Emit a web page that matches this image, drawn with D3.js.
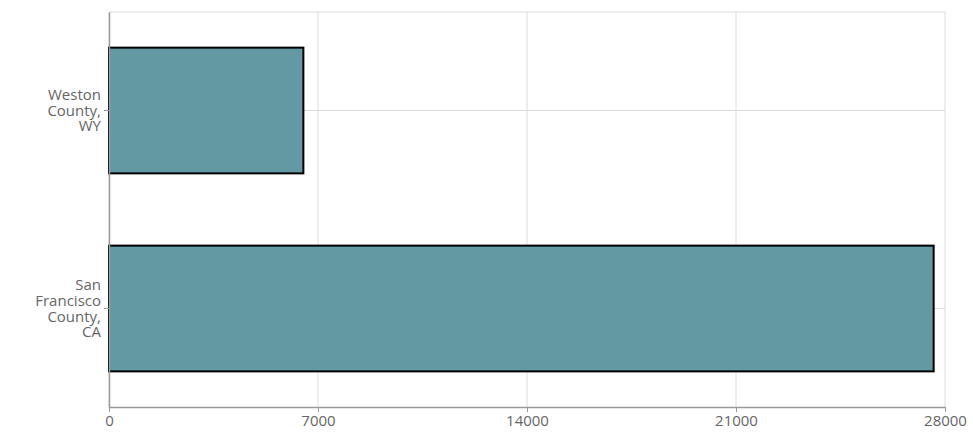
<!DOCTYPE html>
<html><head><meta charset="utf-8">
<script src="https://cdn.jsdelivr.net/npm/d3@7/dist/d3.min.js"></script>
<style>body{margin:0;background:#fff}svg{display:block}</style>
</head><body><svg id="c" width="973" height="445"></svg>
<script>
const categories = ["Weston County, WY", "San Francisco County, CA"];
const values = [6510, 27620];
const xTicks = [0, 7000, 14000, 21000, 28000];

const W = 973, H = 445;
const m = {left: 109, right: 28, top: 12, bottom: 38};
const svg = d3.select("#c");
const font = "'Open Sans', 'Noto Sans', sans-serif";
const x = d3.scaleLinear().domain([0, 28000]).range([m.left, W - m.right]);
const y = d3.scaleBand().domain(categories).range([m.top, H - m.bottom]).paddingInner(0.365).paddingOuter(0.18);

// grid
const g = svg.append("g");
g.selectAll("line.vx").data(xTicks).join("line")
  .attr("x1", d => x(d)).attr("x2", d => x(d)).attr("y1", m.top).attr("y2", H - m.bottom)
  .attr("stroke", "#dcdcdc").attr("stroke-width", 1);
g.selectAll("line.hy").data(categories).join("line")
  .attr("x1", m.left).attr("x2", W - m.right)
  .attr("y1", d => y(d) + y.bandwidth() / 2).attr("y2", d => y(d) + y.bandwidth() / 2)
  .attr("stroke", "#dcdcdc").attr("stroke-width", 1);
g.append("line").attr("x1", m.left).attr("x2", W - m.right).attr("y1", m.top).attr("y2", m.top)
  .attr("stroke", "#dcdcdc");

// bars
svg.append("g").selectAll("rect").data(categories).join("rect")
  .attr("x", x(0)).attr("y", d => y(d))
  .attr("width", (d, i) => x(values[i]) - x(0)).attr("height", y.bandwidth())
  .attr("fill", "#6399a3").attr("stroke", "#000").attr("stroke-width", 2);

// x axis
const xa = svg.append("g").attr("transform", `translate(0,${H - m.bottom})`)
  .call(d3.axisBottom(x).tickValues(xTicks).tickSize(5).tickSizeOuter(0).tickPadding(3).tickFormat(d3.format("d")));
xa.select(".domain").attr("stroke", "#9a9a9a").attr("stroke-width", 1.5);
xa.selectAll(".tick line").attr("stroke", "#9a9a9a");
xa.selectAll("text").attr("fill", "#666").style("font-family", font).style("font-size", "15px");

// y axis
const ya = svg.append("g").attr("transform", `translate(${m.left},0)`)
  .call(d3.axisLeft(y).tickSize(5).tickSizeOuter(0).tickFormat(""));
ya.select(".domain").attr("stroke", "#9a9a9a").attr("stroke-width", 1.5);
ya.selectAll(".tick line").attr("stroke", "#9a9a9a");

const lh = 15.7;
svg.append("g").selectAll("text").data(categories).join("text")
  .attr("text-anchor", "end").attr("fill", "#666")
  .style("font-family", font).style("font-size", "15px")
  .each(function(d) {
    const words = d.split(" ");
    const cy = y(d) + y.bandwidth() / 2;
    const t = d3.select(this);
    words.forEach((w, i) => {
      t.append("tspan").attr("x", 101)
        .attr("y", cy + (i - (words.length - 1) / 2) * lh)
        .attr("dy", "0.35em").text(w);
    });
  });
</script></body></html>
